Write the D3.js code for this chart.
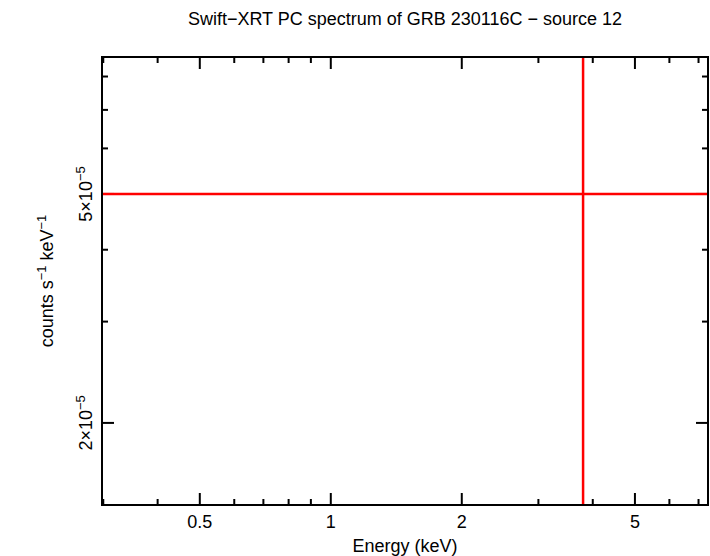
<!DOCTYPE html>
<html><head><meta charset="utf-8">
<script src="https://cdn.jsdelivr.net/npm/d3@7"></script>
<style>body{margin:0;background:#fff}text{font-family:"Liberation Sans",Arial,sans-serif}</style>
</head><body><svg id="c" width="710" height="556"></svg>
<script>
// data
const xDomain = [0.298, 7.36];
const yDomain = [1.44e-5, 8.65e-5];
const xLabelTicks = [0.5, 1, 2, 5];
const xMinorTicks = [0.3, 0.4, 0.5, 0.6, 0.7, 0.8, 0.9, 1, 2, 3, 4, 5, 6, 7];
const yLabelTicks = [2e-5, 5e-5];
const yMinorTicks = [2e-5, 3e-5, 4e-5, 5e-5, 6e-5, 7e-5, 8e-5];
const hLineY = [5e-5];
const vLineX = [3.8];

const L = 102, R = 708, T = 57, B = 505;
const svg = d3.select('#c');
const x = d3.scaleLog().domain(xDomain).range([L, R]);
const y = d3.scaleLog().domain(yDomain).range([B, T]);

// tick marks (inward, bottom/top and left/right)
const tickLen = d => (xLabelTicks.includes(d) ? 12 : 6);
const g = svg.append('g').attr('stroke', '#000').attr('stroke-width', 2);
xMinorTicks.forEach(d => {
  g.append('line').attr('x1', x(d)).attr('x2', x(d)).attr('y1', B).attr('y2', B - tickLen(d));
  g.append('line').attr('x1', x(d)).attr('x2', x(d)).attr('y1', T).attr('y2', T + tickLen(d));
});
yMinorTicks.forEach(d => {
  const len = yLabelTicks.includes(d) ? 12 : 6;
  g.append('line').attr('y1', y(d)).attr('y2', y(d)).attr('x1', L).attr('x2', L + len);
  g.append('line').attr('y1', y(d)).attr('y2', y(d)).attr('x1', R).attr('x2', R - len);
});

// red lines
svg.selectAll('.h').data(hLineY).enter().append('line')
  .attr('x1', L).attr('x2', R).attr('y1', d => y(d)).attr('y2', d => y(d))
  .attr('stroke', '#f00').attr('stroke-width', 2.5);
svg.selectAll('.v').data(vLineX).enter().append('line')
  .attr('y1', T).attr('y2', B).attr('x1', d => x(d)).attr('x2', d => x(d))
  .attr('stroke', '#f00').attr('stroke-width', 2.5);

svg.append('rect').attr('x', L).attr('y', T).attr('width', R - L).attr('height', B - T)
  .attr('fill', 'none').attr('stroke', '#000').attr('stroke-width', 2);

// tick labels
svg.selectAll('.xl').data(xLabelTicks).enter().append('text')
  .attr('x', d => x(d)).attr('y', 528).attr('text-anchor', 'middle')
  .attr('font-size', 18).text(d => d);
yLabelTicks.forEach(d => {
  const t = svg.append('text').attr('transform', `translate(92,${y(d)}) rotate(-90)`)
    .attr('text-anchor', 'middle').attr('font-size', 18);
  t.append('tspan').text(`${d / 1e-5}×10`);
  t.append('tspan').attr('dy', -7).attr('font-size', 13).text('−5');
});

// titles
svg.append('text').attr('x', 405).attr('y', 25).attr('text-anchor', 'middle')
  .attr('font-size', 18).text('Swift−XRT PC spectrum of GRB 230116C − source 12');
svg.append('text').attr('x', 405).attr('y', 552).attr('text-anchor', 'middle')
  .attr('font-size', 18).text('Energy (keV)');
const yl = svg.append('text').attr('transform', `translate(53,${(T + B) / 2}) rotate(-90)`)
  .attr('text-anchor', 'middle').attr('font-size', 18);
yl.append('tspan').text('counts s');
yl.append('tspan').attr('dy', -7).attr('font-size', 13).text('−1');
yl.append('tspan').attr('dy', 7).text(' keV');
yl.append('tspan').attr('dy', -7).attr('font-size', 13).text('−1');
</script></body></html>
